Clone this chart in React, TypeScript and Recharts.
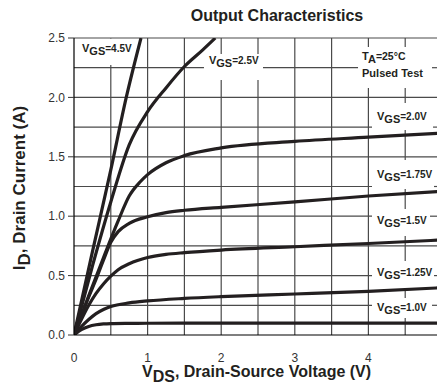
import React from 'react';
import { LineChart, Line, XAxis, YAxis, ReferenceArea, ReferenceLine } from 'recharts';

type Pt = { v: number; i: number };
const mk = (pairs: number[][]): Pt[] => pairs.map(([v, i]) => ({ v, i }));

const vgs45 = mk([[0, 0], [0.25, 0.7], [0.5, 1.39], [0.71, 2.0], [0.91, 2.5]]);
const vgs25 = mk([[0, 0], [0.25, 0.58], [0.5, 1.12], [0.75, 1.6], [1.0, 1.88], [1.25, 2.08], [1.5, 2.26], [1.75, 2.4], [1.92, 2.5]]);
const vgs20 = mk([[0, 0], [0.2, 0.33], [0.4, 0.65], [0.6, 0.96], [0.75, 1.17], [0.9, 1.29], [1.0, 1.35], [1.25, 1.45], [1.5, 1.51], [2.0, 1.575], [3.0, 1.63], [4.0, 1.665], [5.0, 1.7]]);
const vgs175 = mk([[0, 0], [0.1, 0.16], [0.2, 0.32], [0.3, 0.47], [0.4, 0.63], [0.5, 0.78], [0.6, 0.87], [0.75, 0.94], [1.0, 0.995], [1.25, 1.03], [1.5, 1.05], [2.0, 1.075], [3.0, 1.12], [4.0, 1.17], [5.0, 1.21]]);
const vgs15 = mk([[0, 0], [0.1, 0.13], [0.2, 0.25], [0.3, 0.35], [0.4, 0.43], [0.5, 0.495], [0.6, 0.55], [0.75, 0.6], [1.0, 0.652], [1.25, 0.678], [1.5, 0.693], [2.0, 0.715], [3.0, 0.743], [4.0, 0.77], [5.0, 0.8]]);
const vgs125 = mk([[0, 0], [0.1, 0.07], [0.2, 0.13], [0.3, 0.18], [0.4, 0.215], [0.5, 0.24], [0.75, 0.27], [1.0, 0.287], [1.5, 0.308], [2.0, 0.323], [3.0, 0.345], [4.0, 0.368], [5.0, 0.398]]);
const vgs10 = mk([[0, 0], [0.1, 0.045], [0.2, 0.072], [0.3, 0.086], [0.4, 0.093], [0.5, 0.096], [0.75, 0.098], [1.0, 0.099], [2.0, 0.1], [5.0, 0.1]]);

const series = [vgs45, vgs25, vgs20, vgs175, vgs15, vgs125, vgs10];

const xTicks = [0, 1, 2, 3, 4, 5];
const yTicks = [0, 0.5, 1.0, 1.5, 2.0, 2.5];
const xGrid = [0.5, 1, 1.5, 2, 2.5, 3, 3.5, 4, 4.5];
const yGrid = [0.25, 0.5, 0.75, 1.0, 1.25, 1.5, 1.75, 2.0, 2.25, 2.5];

const vgsLabels = ['4.5V', '2.5V', '2.0V', '1.75V', '1.5V', '1.25V', '1.0V'];

// label boxes (layout); idx -1 = temperature note
const boxes = [
  { x1: 3.859, x2: 4.864, y1: 2.079, y2: 2.424, dx: 4, dy: 13, idx: -1 },
  { x1: 0.007, x2: 0.965, y1: 2.273, y2: 2.495, dx: 7.5, dy: 13, idx: 0 },
  { x1: 1.766, x2: 2.568, y1: 2.146, y2: 2.365, dx: 5, dy: 10, idx: 1 },
  { x1: 4.049, x2: 4.878, y1: 1.726, y2: 1.953, dx: 5, dy: 17, idx: 2 },
  { x1: 4.049, x2: 4.891, y1: 1.229, y2: 1.473, dx: 5, dy: 18, idx: 3 },
  { x1: 4.049, x2: 4.837, y1: 0.833, y2: 1.061, dx: 5, dy: 15, idx: 4 },
  { x1: 4.049, x2: 4.891, y1: 0.396, y2: 0.623, dx: 5, dy: 15, idx: 5 },
  { x1: 4.049, x2: 4.864, y1: 0.143, y2: 0.311, dx: 5, dy: 13, idx: 6 },
];

const FONT = "'Liberation Sans', Arial, Helvetica, sans-serif";
const INK = '#231f20';

const vgsLabel = (text: string, dx: number, dy: number) => (props: any) => {
  const vb = props.viewBox || {};
  return (
    <text x={vb.x + dx} y={vb.y + dy} fontFamily={FONT} fontWeight="bold" fill={INK} fontSize={11}>
      <tspan>V</tspan>
      <tspan dy={3}>GS</tspan>
      <tspan dy={-3} fontSize={10}>={text}</tspan>
    </text>
  );
};

const taLabel = (dx: number, dy: number) => (props: any) => {
  const vb = props.viewBox || {};
  return (
    <g fontFamily={FONT} fontWeight="bold" fill={INK}>
      <text x={vb.x + dx} y={vb.y + dy} fontSize={11}>
        <tspan>T</tspan>
        <tspan dy={3}>A</tspan>
        <tspan dy={-3} fontSize={10.5}>=25°C</tspan>
      </text>
      <text x={vb.x + dx} y={vb.y + dy + 17} fontSize={11}>Pulsed Test</text>
    </g>
  );
};

// split [lo, hi] removing the given intervals
const split = (lo: number, hi: number, cuts: number[][]) => {
  const sorted = cuts.slice().sort((a, b) => a[0] - b[0]);
  const out: number[][] = [];
  let cur = lo;
  for (const [a, b] of sorted) {
    if (a > cur) out.push([cur, Math.min(a, hi)]);
    cur = Math.max(cur, b);
  }
  if (cur < hi) out.push([cur, hi]);
  return out;
};

const hSegs = yGrid.flatMap((y) =>
  split(0, 5, boxes.filter((b) => b.y1 < y && y < b.y2).map((b) => [b.x1, b.x2])).map((s) => ({ y, a: s[0], b: s[1] }))
);
const vSegs = xGrid.flatMap((x) =>
  split(0, 2.5, boxes.filter((b) => b.x1 < x && x < b.x2).map((b) => [b.y1, b.y2])).map((s) => ({ x, a: s[0], b: s[1] }))
);

const gridColor = '#4a4a4a';

export default function App() {
  return (
    <div style={{ position: 'relative', width: 437, height: 380 }}>
      <LineChart
        width={437}
        height={380}
        margin={{ top: 30, right: 3, left: 0, bottom: 23 }}
        style={{ fontFamily: FONT }}
      >
        <XAxis
          dataKey="v"
          type="number"
          domain={[0, 5]}
          ticks={xTicks}
          interval={0}
          allowDataOverflow
          height={30}
          tickLine={false}
          tickMargin={12}
          axisLine={{ stroke: '#000', strokeWidth: 1.2 }}
          tick={{ fontSize: 12, fill: '#333', fontFamily: FONT }}
        />
        <YAxis
          type="number"
          domain={[0, 2.5]}
          ticks={yTicks}
          interval={0}
          allowDataOverflow
          width={66}
          tickSize={6}
          tickMargin={3}
          tickFormatter={(v: number) => v.toFixed(1)}
          axisLine={{ stroke: '#000', strokeWidth: 1.2 }}
          tickLine={{ stroke: '#333' }}
          tick={{ fontSize: 12, fill: '#333', fontFamily: FONT }}
        />
        {hSegs.map((s, k) => (
          <ReferenceLine
            key={'h' + k}
            segment={[{ x: s.a, y: s.y }, { x: s.b, y: s.y }]}
            stroke={gridColor}
            strokeWidth={1.2}
          />
        ))}
        {vSegs.map((s, k) => (
          <ReferenceLine
            key={'v' + k}
            segment={[{ x: s.x, y: s.a }, { x: s.x, y: s.b }]}
            stroke={gridColor}
            strokeWidth={1.2}
          />
        ))}
        {boxes.map((b) => (
          <ReferenceArea
            key={b.idx}
            x1={b.x1}
            x2={b.x2}
            y1={b.y1}
            y2={b.y2}
            fill="#fff"
            fillOpacity={0}
            stroke="none"
            label={b.idx < 0 ? taLabel(b.dx, b.dy) : vgsLabel(vgsLabels[b.idx], b.dx, b.dy)}
          />
        ))}
        {series.map((d, k) => (
          <Line
            key={k}
            data={d}
            dataKey="i"
            type="monotone"
            stroke={INK}
            strokeWidth={3.2}
            dot={false}
            isAnimationActive={false}
          />
        ))}
      </LineChart>
      <svg
        width={437}
        height={380}
        style={{ position: 'absolute', left: 0, top: 0, pointerEvents: 'none' }}
      >
        <text x={269} y={13} textAnchor="middle" fontFamily={FONT} fontWeight="bold" fontSize={16} fill={INK}>
          Output Characteristics
        </text>
        <text x={134} y={369} fontFamily={FONT} fontWeight="bold" fontSize={16} fill={INK}>
          <tspan>V</tspan>
          <tspan dy={5}>DS</tspan>
          <tspan dy={-5}>, Drain-Source Voltage (V)</tspan>
        </text>
        <text
          x={17}
          y={180}
          transform="rotate(-90 17 180)"
          textAnchor="middle"
          fontFamily={FONT}
          fontWeight="bold"
          fontSize={17}
          fill={INK}
        >
          <tspan>I</tspan>
          <tspan dy={5}>D</tspan>
          <tspan dy={-5}>, Drain Current (A)</tspan>
        </text>
      </svg>
    </div>
  );
}
